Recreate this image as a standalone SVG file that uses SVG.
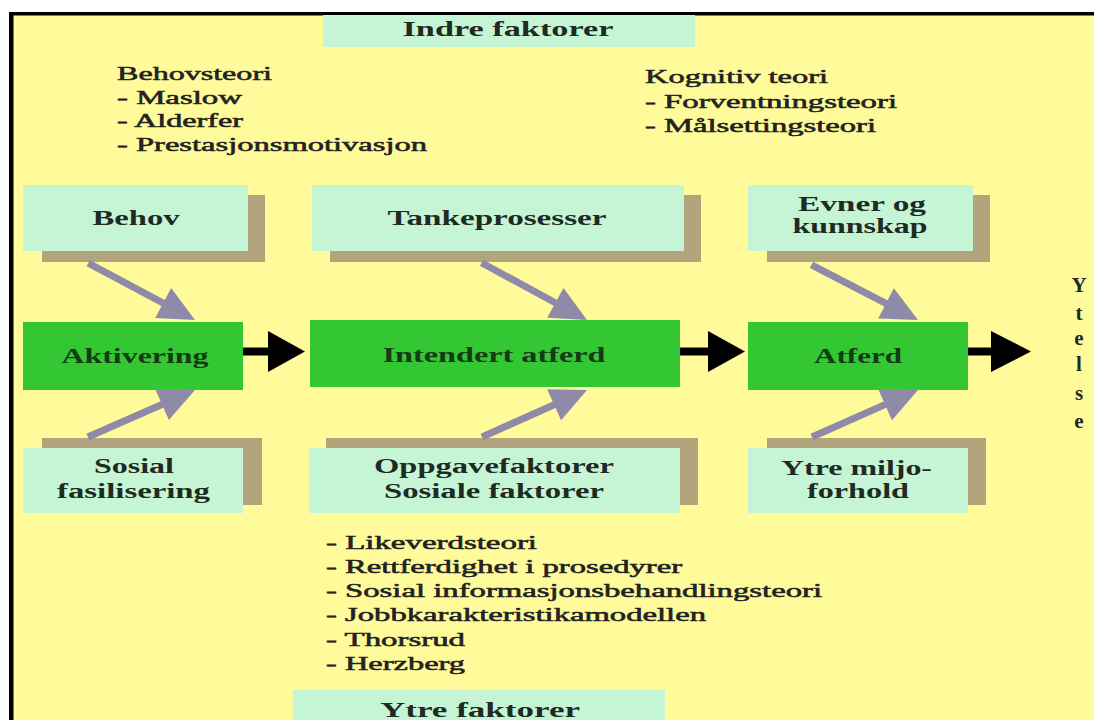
<svg xmlns="http://www.w3.org/2000/svg" width="1094" height="720" viewBox="0 0 1094 720">
<defs>
<style>
.bg{fill:#FFFA9A}
.mint{fill:#C6F5D6}
.shadow{fill:#B2A47C}
.green{fill:#33C733}
.lbl{font-family:"Liberation Serif","Times New Roman",serif;font-weight:bold;font-size:20px;fill:#1e2a22;text-anchor:middle}
.big{font-size:22px}
.yl{font-size:21px}
.glbl{font-family:"Liberation Serif","Times New Roman",serif;font-weight:bold;font-size:20px;fill:#163a16;text-anchor:middle}
.list{font-family:"Liberation Serif","Times New Roman",serif;font-size:19px;fill:#222;stroke:#222;stroke-width:0.55}
.ga{fill:#8E8AA8}
.ba{fill:#000}
</style>
</defs>
<rect x="0" y="0" width="1094" height="720" fill="#fff"/>
<rect class="bg" x="13" y="15" width="1081" height="705"/>
<rect x="9" y="12" width="1085" height="3.5" fill="#000"/>
<rect x="9" y="12" width="4.5" height="708" fill="#000"/>

<g id="indre-faktorer">
<rect class="mint" x="323" y="15" width="372" height="32"/>
<text class="lbl big" x="508" y="36" textLength="211" lengthAdjust="spacingAndGlyphs">Indre faktorer</text>
</g>

<g id="behovsteori">
<text class="list" x="117" y="80" textLength="155" lengthAdjust="spacingAndGlyphs">Behovsteori</text>
<text class="list" x="117" y="103.5" textLength="125" lengthAdjust="spacingAndGlyphs">- Maslow</text>
<text class="list" x="117" y="127" textLength="126" lengthAdjust="spacingAndGlyphs">- Alderfer</text>
<text class="list" x="117" y="150.5" textLength="310" lengthAdjust="spacingAndGlyphs">- Prestasjonsmotivasjon</text>
</g>

<g id="kognitiv-teori">
<text class="list" x="645" y="83" textLength="183" lengthAdjust="spacingAndGlyphs">Kognitiv teori</text>
<text class="list" x="645" y="107.5" textLength="252" lengthAdjust="spacingAndGlyphs">- Forventningsteori</text>
<text class="list" x="645" y="131.5" textLength="231" lengthAdjust="spacingAndGlyphs">- Målsettingsteori</text>
</g>

<g id="behov">
<rect class="shadow" x="42" y="195" width="223" height="67"/>
<rect class="mint" x="23" y="185" width="225" height="66"/>
<text class="lbl" x="136" y="225" textLength="87" lengthAdjust="spacingAndGlyphs">Behov</text>
</g>

<g id="tankeprosesser">
<rect class="shadow" x="330" y="195" width="371" height="67"/>
<rect class="mint" x="312" y="185" width="372" height="66"/>
<text class="lbl" x="497" y="225" textLength="219" lengthAdjust="spacingAndGlyphs">Tankeprosesser</text>
</g>

<g id="evner-og-kunnskap">
<rect class="shadow" x="767" y="195" width="223" height="67"/>
<rect class="mint" x="748" y="185" width="225" height="66"/>
<text class="lbl" x="862" y="211" textLength="128" lengthAdjust="spacingAndGlyphs">Evner og</text>
<text class="lbl" x="860" y="233" textLength="135" lengthAdjust="spacingAndGlyphs">kunnskap</text>
</g>

<g id="aktivering">
<rect class="green" x="23" y="322" width="220" height="68"/>
<text class="glbl" x="135" y="363" textLength="147" lengthAdjust="spacingAndGlyphs">Aktivering</text>
</g>

<g id="intendert-atferd">
<rect class="green" x="310" y="320" width="370" height="67"/>
<text class="glbl" x="494" y="362" textLength="223" lengthAdjust="spacingAndGlyphs">Intendert atferd</text>
</g>

<g id="atferd">
<rect class="green" x="748" y="322" width="220" height="68"/>
<text class="glbl" x="858" y="363" textLength="88" lengthAdjust="spacingAndGlyphs">Atferd</text>
</g>

<g id="sosial-fasilisering">
<rect class="shadow" x="42" y="438" width="220" height="67"/>
<rect class="mint" x="23" y="448" width="220" height="65"/>
<text class="lbl" x="134" y="473" textLength="80" lengthAdjust="spacingAndGlyphs">Sosial</text>
<text class="lbl" x="133.5" y="498" textLength="153" lengthAdjust="spacingAndGlyphs">fasilisering</text>
</g>

<g id="oppgavefaktorer">
<rect class="shadow" x="326" y="438" width="372" height="67"/>
<rect class="mint" x="309" y="448" width="371" height="65"/>
<text class="lbl" x="494" y="473" textLength="240" lengthAdjust="spacingAndGlyphs">Oppgavefaktorer</text>
<text class="lbl" x="494" y="498" textLength="220" lengthAdjust="spacingAndGlyphs">Sosiale faktorer</text>
</g>

<g id="ytre-miljoforhold">
<rect class="shadow" x="767" y="438" width="219" height="67"/>
<rect class="mint" x="748" y="448" width="220" height="65"/>
<text class="lbl" x="856.5" y="475" textLength="151" lengthAdjust="spacingAndGlyphs">Ytre miljo-</text>
<text class="lbl" x="858" y="498" textLength="102" lengthAdjust="spacingAndGlyphs">forhold</text>
</g>

<g id="teorier-ytre">
<text class="list" x="326" y="549" textLength="211" lengthAdjust="spacingAndGlyphs">- Likeverdsteori</text>
<text class="list" x="326" y="573" textLength="356" lengthAdjust="spacingAndGlyphs">- Rettferdighet i prosedyrer</text>
<text class="list" x="326" y="597" textLength="496" lengthAdjust="spacingAndGlyphs">- Sosial informasjonsbehandlingsteori</text>
<text class="list" x="326" y="621" textLength="380" lengthAdjust="spacingAndGlyphs">- Jobbkarakteristikamodellen</text>
<text class="list" x="326" y="646" textLength="139" lengthAdjust="spacingAndGlyphs">- Thorsrud</text>
<text class="list" x="326" y="670" textLength="139" lengthAdjust="spacingAndGlyphs">- Herzberg</text>
</g>

<g id="ytre-faktorer">
<rect class="mint" x="293" y="690" width="372" height="30"/>
<text class="lbl big" x="480" y="717" textLength="200" lengthAdjust="spacingAndGlyphs">Ytre faktorer</text>
</g>

<g id="ytelse">
<text class="lbl yl" x="1079" y="292">Y</text>
<text class="lbl yl" x="1079" y="320">t</text>
<text class="lbl yl" x="1079" y="345">e</text>
<text class="lbl yl" x="1079" y="371">l</text>
<text class="lbl yl" x="1079" y="400">s</text>
<text class="lbl yl" x="1079" y="428">e</text>
</g>

<g id="connectors">
<g class="ga">
<g transform="translate(195,320) rotate(28.05)"><rect x="-121" y="-3.5" width="88" height="7"/><polygon points="0,0 -36,-17 -36,17"/></g>
<g transform="translate(195,390) rotate(-23.7)"><rect x="-117" y="-3.5" width="84" height="7"/><polygon points="0,0 -36,-17 -36,17"/></g>
<g transform="translate(587,320) rotate(28.5)"><rect x="-120" y="-3.5" width="87" height="7"/><polygon points="0,0 -36,-17 -36,17"/></g>
<g transform="translate(587,390) rotate(-24.1)"><rect x="-115" y="-3.5" width="82" height="7"/><polygon points="0,0 -36,-17 -36,17"/></g>
<g transform="translate(918,320) rotate(27.4)"><rect x="-120" y="-3.5" width="87" height="7"/><polygon points="0,0 -36,-17 -36,17"/></g>
<g transform="translate(918,390) rotate(-23.9)"><rect x="-116" y="-3.5" width="83" height="7"/><polygon points="0,0 -36,-17 -36,17"/></g>
</g>
<g class="ba">
<polygon points="243,347.5 268,347.5 268,331 305,351.5 268,372 268,355.5 243,355.5"/>
<polygon points="680,347.5 708,347.5 708,331 745,351.5 708,372 708,355.5 680,355.5"/>
<polygon points="968,347.5 991,347.5 991,331 1031,351.5 991,372 991,355.5 968,355.5"/>
</g>
</g>
</svg>
